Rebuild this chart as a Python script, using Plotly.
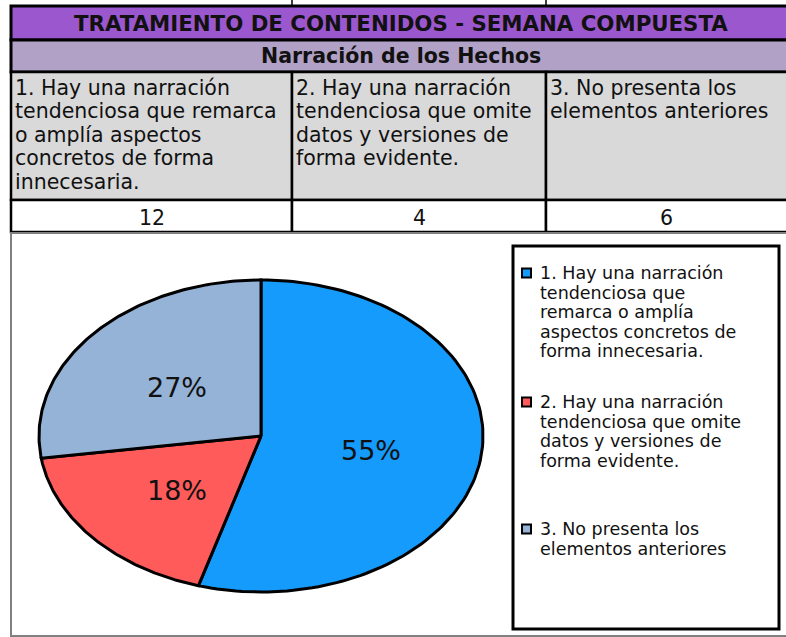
import numpy as np
import plotly.graph_objects as go

# data
title = "TRATAMIENTO DE CONTENIDOS - SEMANA COMPUESTA"
subtitle = "Narración de los Hechos"
categories = [
    ["1. Hay una narración", "tendenciosa que remarca", "o amplía aspectos", "concretos de forma", "innecesaria."],
    ["2. Hay una narración", "tendenciosa que omite", "datos y versiones de", "forma evidente."],
    ["3. No presenta los", "elementos anteriores"],
]
legend_labels = [
    ["1. Hay una narración", "tendenciosa que", "remarca o amplía", "aspectos concretos de", "forma innecesaria."],
    ["2. Hay una narración", "tendenciosa que omite", "datos y versiones de", "forma evidente."],
    ["3. No presenta los", "elementos anteriores"],
]
counts = [12, 4, 6]
colors = ["#149BFC", "#FF5B5B", "#95B3D7"]

W, H = 786, 637
FONT = "DejaVu Sans"

fig = go.Figure()
shapes = []
annotations = []

def rect(x0, y0, x1, y1, fill, lc="black", lw=2.5):
    shapes.append(dict(type="rect", xref="x", yref="y", x0=x0, y0=y0, x1=x1, y1=y1,
                       fillcolor=fill, line=dict(color=lc, width=lw), layer="below"))

def text(x, y, s, size, xanchor="center", yanchor="middle", bold=False):
    annotations.append(dict(x=x, y=y, xref="x", yref="y", text=s, showarrow=False,
                            xanchor=xanchor, yanchor=yanchor, borderpad=0,
                            font=dict(family=FONT, size=size, color="#111111",
                                      weight="bold" if bold else "normal")))

# table
cols = [11, 292, 546, 792]
rect(11, 6, 792, 40, "#9B57CE", lw=3)
rect(11, 40, 792, 72, "#B2A1C7", lw=3)
for i in range(3):
    rect(cols[i], 72, cols[i + 1], 200, "#D9D9D9")
    rect(cols[i], 200, cols[i + 1], 232, "white")
for cx in cols[1:3]:
    shapes.append(dict(type="line", xref="x", yref="y", x0=cx, x1=cx, y0=0, y1=6,
                       line=dict(color="black", width=1.5)))

text(401, 23, title, 21.3, bold=True)
text(401, 56, subtitle, 20.5, bold=True)
for i, lines in enumerate(categories):
    for k, ln in enumerate(lines):
        text(cols[i] + 3, 88 + k * 23.4, ln, 20.5, xanchor="left")
    text((cols[i] + min(cols[i + 1], 786)) / 2, 218, str(counts[i]), 20.5)

# chart area
rect(11, 233, 792, 636, "white", lc="#808080", lw=2)
rect(513, 246, 779, 629, "white", lw=3)

# pie drawn as an ellipse through the axes
cx, cy, rx, ry = 261, 436, 222, 156
total = sum(counts)
start = 0.0
for v, col in zip(counts, colors):
    frac = v / total
    end = start + frac * 2 * np.pi
    t = np.linspace(start, end, 120)
    xs = np.concatenate([[cx], cx + rx * np.sin(t), [cx]])
    ys = np.concatenate([[cy], cy - ry * np.cos(t), [cy]])
    fig.add_trace(go.Scatter(x=xs, y=ys, mode="lines", fill="toself", fillcolor=col,
                             line=dict(color="black", width=3), hoverinfo="skip",
                             showlegend=False))
    mid = (start + end) / 2
    text(cx + 0.5 * rx * np.sin(mid), cy - 0.5 * ry * np.cos(mid) + 3,
         f"{round(frac * 100)}%", 27)
    start = end

# legend
entry_y = [273, 402, 529]
for lines, col, y0 in zip(legend_labels, colors, entry_y):
    shapes.append(dict(type="rect", xref="x", yref="y", x0=522, x1=531, y0=y0 - 4.5, y1=y0 + 4.5,
                       fillcolor=col, line=dict(color="black", width=2)))
    for k, ln in enumerate(lines):
        text(539, y0 + k * 19.6, ln, 17.5, xanchor="left")

fig.update_layout(
    width=W, height=H,
    margin=dict(l=0, r=0, t=0, b=0),
    paper_bgcolor="white", plot_bgcolor="white",
    xaxis=dict(range=[0, W], visible=False, fixedrange=True),
    yaxis=dict(range=[H, 0], visible=False, fixedrange=True),
    shapes=shapes, annotations=annotations,
    showlegend=False,
)

fig.write_html("out.html", config={"displayModeBar": False},
               post_script="document.body.style.margin='0';document.body.style.overflow='hidden';")
